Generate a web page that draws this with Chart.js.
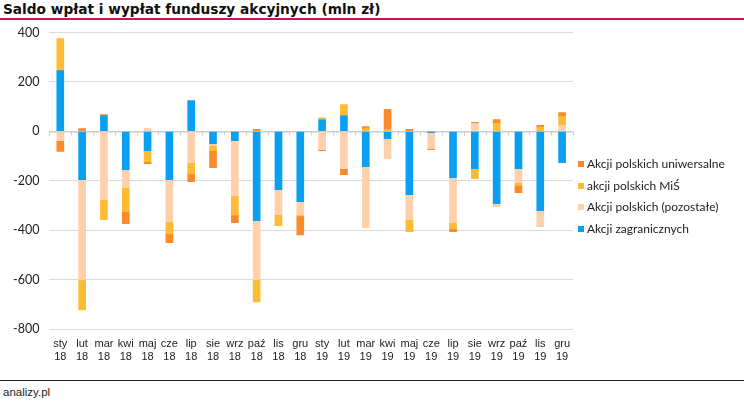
<!DOCTYPE html>
<html lang="pl">
<head>
<meta charset="UTF-8">
<script src="https://cdn.jsdelivr.net/npm/chart.js"></script>
<title>Saldo wpłat i wypłat funduszy akcyjnych</title>
<style>
  body { margin: 0; background: #fff; width: 744px; height: 402px; position: relative; overflow: hidden; font-family: Lato, "Liberation Sans", sans-serif; }
  #title { position: absolute; left: 3px; top: 1px; font-size: 13.7px; font-weight: bold; color: #111; font-family: "DejaVu Sans", sans-serif; }
  #titleLine { position: absolute; left: 0; top: 18px; width: 744px; height: 2px; background: #c0185a; }
  #wrap { position: absolute; left: 0; top: 15px; width: 744px; height: 358px; }
  #footLine { position: absolute; left: 0; top: 380px; width: 744px; height: 1px; background: #222; }
  #foot { position: absolute; left: 3px; top: 386px; font-size: 11.5px; color: #222; font-family: "Liberation Sans", sans-serif; }
  #legend { position: absolute; left: 578px; top: 157px; font-size: 12px; color: #222; }
  #legend div { height: 21.5px; line-height: 14px; white-space: nowrap; }
  #legend span { display: inline-block; width: 6px; height: 6px; margin-right: 3px; vertical-align: 1px; }
</style>
</head>
<body>
<div id="title">Saldo wpłat i wypłat funduszy akcyjnych (mln zł)</div>
<div id="titleLine"></div>
<div id="wrap"><canvas id="chart"></canvas></div>
<div id="legend"></div>
<div id="footLine"></div>
<div id="foot">analizy.pl</div>

<script>
// months (two-line labels)
var months = ['sty','lut','mar','kwi','maj','cze','lip','sie','wrz','paź','lis','gru',
              'sty','lut','mar','kwi','maj','cze','lip','sie','wrz','paź','lis','gru'];
var years = ['18','18','18','18','18','18','18','18','18','18','18','18',
             '19','19','19','19','19','19','19','19','19','19','19','19'];

// values in mln zł
var zagraniczne = [246, -196, 63, -155, -78, -196, 124, -50, -38, -362, -236, -285,
                   47, 63, -143, -30, -256, -5, -188, -151, -293, -151, -321, -127];
var pozostale   = [-38, -405, -277, -73, 12, -170, -127, -8, -223, -239, -101, -53,
                   -74, -151, -247, -81, -101, -65, -182, 32, -12, -57, -65, 24];
var mis         = [129, -122, -81, -97, -45, -49, -45, -20, -77, -89, -45, -4,
                   8, 45, 11, 8, -49, 0, -24, -41, 32, -12, 16, 36];
var uniwersalne = [-43, 11, 5, -49, -8, -36, -32, -69, -32, 8, 0, -77,
                   -4, -24, 8, 81, 8, -4, -12, 4, 16, -28, 8, 16];

var labels = months.map(function (m, i) { return [m, years[i]]; });

var series = [
  { label: 'Akcji zagranicznych', data: zagraniczne, color: '#0aa0f2' },
  { label: 'Akcji polskich (pozostałe)', data: pozostale, color: '#ffd0aa' },
  { label: 'akcji polskich MiŚ', data: mis, color: '#ffbb33' },
  { label: 'Akcji polskich uniwersalne', data: uniwersalne, color: '#fb8a2c' }
];

// legend, reversed like the original
var legend = document.getElementById('legend');
series.slice().reverse().forEach(function (s) {
  var row = document.createElement('div');
  row.innerHTML = '<span style="background:' + s.color + '"></span>' + s.label;
  legend.appendChild(row);
});

// small ticks on the zero line between categories
var zeroTicks = {
  id: 'zeroTicks',
  beforeDatasetsDraw: function (chart) {
    var x = chart.scales.x, y = chart.scales.y, ctx = chart.ctx;
    var y0 = Math.round(y.getPixelForValue(0)) + 0.5;
    var step = (x.right - x.left) / labels.length;
    ctx.save();
    ctx.strokeStyle = '#d0d0d0';
    ctx.lineWidth = 1;
    ctx.beginPath();
    for (var i = 0; i <= labels.length; i++) {
      var px = Math.round(x.left + i * step) + 0.5;
      ctx.moveTo(px, y0);
      ctx.lineTo(px, y0 + 4);
    }
    ctx.stroke();
    ctx.restore();
  }
};

new Chart(document.getElementById('chart').getContext('2d'), {
  type: 'bar',
  data: {
    labels: labels,
    datasets: series.map(function (s) {
      return { label: s.label, data: s.data, backgroundColor: s.color, barThickness: 7 };
    })
  },
  options: {
    responsive: true,
    maintainAspectRatio: false,
    animation: false,
    layout: { padding: { left: 3, right: 171, top: 4, bottom: 2 } },
    plugins: { legend: { display: false }, tooltip: { enabled: false } },
    scales: {
      x: {
        stacked: true,
        grid: { display: false, drawTicks: false },
        border: { display: false },
        ticks: {
          color: '#222', padding: 8, maxRotation: 0, autoSkip: false,
          font: { family: '"Liberation Sans Narrow", "Liberation Sans", sans-serif', size: 11, lineHeight: '13px' }
        }
      },
      y: {
        stacked: true,
        min: -800, max: 400,
        border: { display: false },
        grid: {
          drawTicks: false,
          color: function (c) { return c.tick.value === 0 ? '#cccccc' : '#dadada'; },
          lineWidth: function (c) { return c.tick.value === 0 ? 1.5 : 1; }
        },
        ticks: {
          stepSize: 200, padding: 10, color: '#222',
          font: { family: 'Lato, sans-serif', size: 12.5 }
        }
      }
    }
  },
  plugins: [zeroTicks]
});
</script>
</body>
</html>
